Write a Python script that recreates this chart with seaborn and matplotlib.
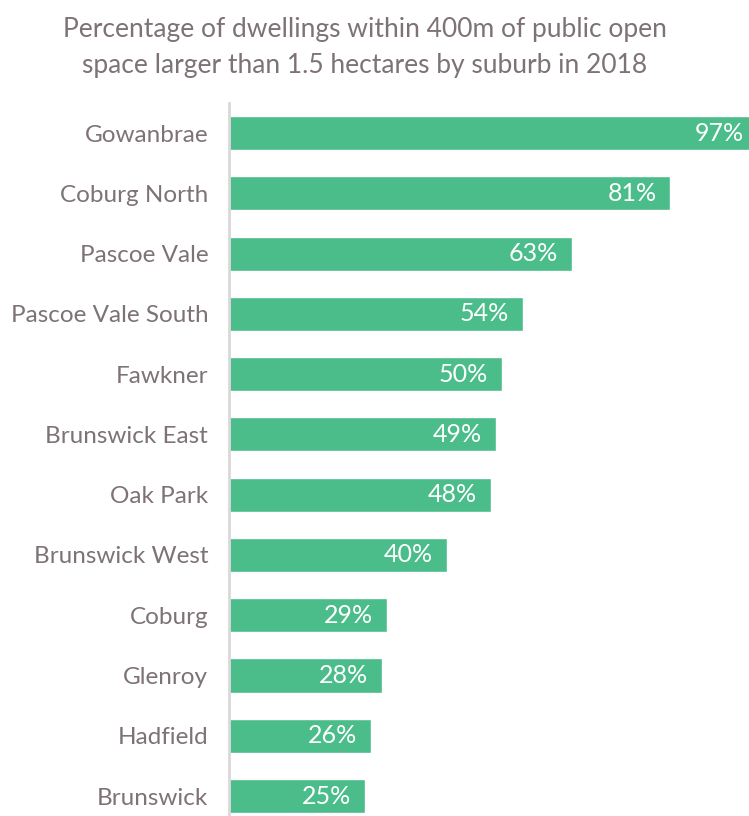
import matplotlib
matplotlib.use("Agg")
import matplotlib.pyplot as plt
import seaborn as sns
import pandas as pd
from matplotlib.transforms import offset_copy

suburbs = ["Gowanbrae", "Coburg North", "Pascoe Vale", "Pascoe Vale South", "Fawkner",
           "Brunswick East", "Oak Park", "Brunswick West", "Coburg", "Glenroy",
           "Hadfield", "Brunswick"]
values = [97, 81, 63, 54, 50, 49, 48, 40, 29, 28, 26, 25]
title = "Percentage of dwellings within 400m of public open\nspace larger than 1.5 hectares by suburb in 2018"

df = pd.DataFrame({"suburb": suburbs, "value": values})

sns.set_style("white")
plt.rcParams["font.family"] = ["Lato", "DejaVu Sans"]

text_color = "#7d7275"
bar_color = "#4bbd8a"

fig = plt.figure(figsize=(7.49, 8.16), dpi=100)
W, H = 749, 816
ax = fig.add_axes([229 / W, 0, (W - 229) / W, (H - 103) / H])

sns.barplot(data=df, x="value", y="suburb", orient="h", color=bar_color,
            width=0.565, saturation=1, ax=ax)

ax.set_xlim(0, (W - 229) / 5.45)
ax.set_ylim(11 + 20 / 60.3, -0.5)
ax.set_xlabel("")
ax.set_ylabel("")
ax.set_xticks([])
for s in ["top", "right", "bottom"]:
    ax.spines[s].set_visible(False)
ax.spines["left"].set_color("#dcd8d9")
ax.spines["left"].set_linewidth(2)
ax.tick_params(axis="y", length=0, pad=15, labelsize=17.5, labelcolor=text_color)

for i, v in enumerate(values):
    tr = offset_copy(ax.transData, fig=fig, x=-14, y=0, units="dots")
    ax.text(v, i, f"{v}%", transform=tr, ha="right", va="center",
            color="white", fontsize=18, clip_on=False)

fig.text(365 / W, 1 - 47 / H, title, ha="center", va="center", color=text_color,
         fontsize=19, linespacing=1.55)

fig.savefig("out.png", dpi=100)
